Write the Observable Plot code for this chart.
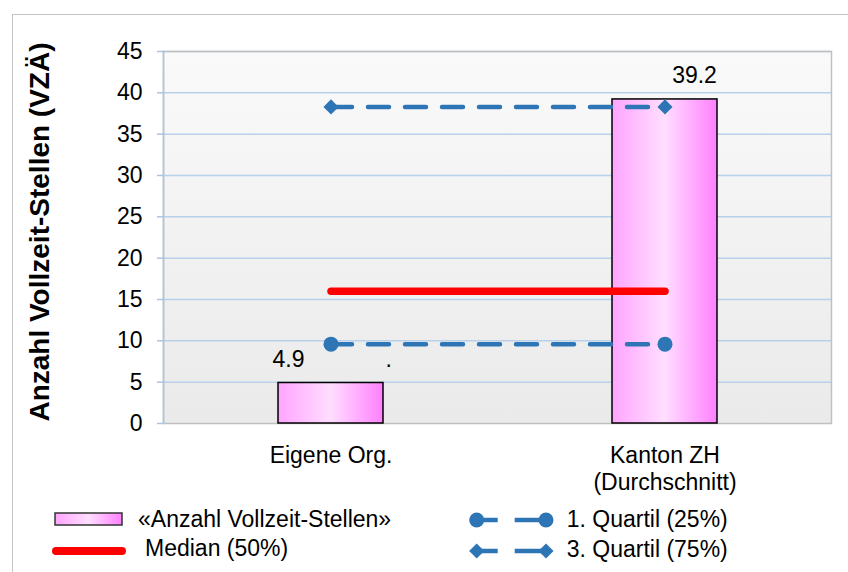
<!DOCTYPE html>
<html><head><meta charset="utf-8">
<script src="https://cdn.jsdelivr.net/npm/d3@7"></script>
<script src="https://cdn.jsdelivr.net/npm/@observablehq/plot@0.6"></script>
<style>
body{margin:0;background:#fff;font-family:"Liberation Sans",Arial,sans-serif;}
#wrap{position:relative;width:848px;height:572px;overflow:hidden;}
#border{position:absolute;left:12px;top:14px;width:900px;height:700px;border:1.5px solid #c4c4c4;box-sizing:border-box;}
#chart{position:absolute;left:0;top:0;}
.lg{position:absolute;font-size:23px;line-height:23px;color:#000;white-space:nowrap;}
.sw{position:absolute;left:0;top:0;}
</style></head><body>
<div id="wrap"><div id="border"></div><div id="chart"></div><div id="legend"></div></div>
<script>
// ---- data ----
const categories = ["Eigene Org.", "Kanton ZH\n(Durchschnitt)"];
const values = [4.9, 39.2];
const valueLabels = ["4.9", "39.2"];
const extraLabels = ["."];
const median = [16.0, 16.0];
const quartile1 = [9.6, 9.6];
const quartile3 = [38.3, 38.3];
const yTicks = [0, 5, 10, 15, 20, 25, 30, 35, 40, 45];
const yTitle = "Anzahl Vollzeit-Stellen (VZÄ)";
const legendLabels = ["«Anzahl Vollzeit-Stellen»", "Median (50%)", "1. Quartil (25%)", "3. Quartil (75%)"];

const font = "Liberation Sans, Arial, sans-serif";
const blue = "#2e75b6";

const bars = categories.map((c, i) => ({cat: c, v: values[i], label: valueLabels[i]}));
const med = categories.map((c, i) => ({cat: c, v: median[i]}));
const q1 = categories.map((c, i) => ({cat: c, v: quartile1[i]}));
const q3 = categories.map((c, i) => ({cat: c, v: quartile3[i]}));
const extra = extraLabels.map((t, i) => ({cat: categories[i], v: values[i], label: t}));

const plot = Plot.plot({
  width: 848, height: 490,
  marginLeft: 163, marginRight: 17, marginTop: 51, marginBottom: 67,
  style: {fontFamily: font, fontSize: "23px", background: "transparent", overflow: "visible", color: "#000"},
  x: {domain: categories, paddingInner: 0.686, paddingOuter: 0.343, align: 0.5, label: null},
  y: {domain: [0, 45], label: null},
  marks: [
    Plot.frame({fill: "url(#bgGrad)", stroke: null}),
    Plot.gridY(yTicks.filter(t => t > 0), {stroke: "#b9d0ea", strokeOpacity: 1, strokeWidth: 1.5}),
    Plot.frame({stroke: "#c0c0c0", strokeWidth: 1.5, fill: "none"}),
    Plot.frame({anchor: "left", stroke: "#a9c4e4", strokeWidth: 1.5}),
    Plot.axisY(yTicks, {tickSize: 6, tickPadding: 15, stroke: "#a9c4e4", strokeWidth: 1.5, fill: "#000", fontSize: 23, label: null}),
    Plot.axisX({tickSize: 0, tickPadding: 21, fontSize: 23, lineHeight: 1.15, fill: "#000", label: null}),
    Plot.barY(bars, {x: "cat", y: "v", fill: "url(#barGrad)", stroke: "#000", strokeWidth: 1.5}),
    Plot.line(med, {x: "cat", y: "v", stroke: "#ff0000", strokeWidth: 7.5, strokeLinecap: "round"}),
    Plot.line(q1, {x: "cat", y: "v", stroke: blue, strokeWidth: 4.5, strokeDasharray: "21,16"}),
    Plot.dot(q1, {x: "cat", y: "v", r: 7.5, fill: blue, stroke: null}),
    Plot.line(q3, {x: "cat", y: "v", stroke: blue, strokeWidth: 4.5, strokeDasharray: "21,16"}),
    Plot.dot(q3, {x: "cat", y: "v", r: 6.8, symbol: "diamond2", fill: blue, stroke: null}),
    Plot.text(bars, {filter: (d, i) => i === 0, x: "cat", y: "v", text: "label", dx: -42.5, dy: -23.5, fontSize: 23, fill: "#000"}),
    Plot.text(bars, {filter: (d, i) => i === 1, x: "cat", y: "v", text: "label", dx: 29.5, dy: -23.5, fontSize: 23, fill: "#000"}),
    Plot.text(extra, {x: "cat", y: "v", text: "label", dx: 57.7, dy: -23.5, fontSize: 23, fill: "#000"}),
    Plot.text([yTitle], {frameAnchor: "left", textAnchor: "middle", dx: -123, dy: -5.5, rotate: -90, fontSize: 28, fontWeight: "bold", fill: "#000"})
  ]
});

const defs = d3.select(plot).insert("defs", ":first-child");
const bg = defs.append("linearGradient").attr("id", "bgGrad").attr("x1", 0).attr("y1", 0).attr("x2", 0).attr("y2", 1);
bg.append("stop").attr("offset", "0%").attr("stop-color", "#fafafa");
bg.append("stop").attr("offset", "100%").attr("stop-color", "#eaeaea");
const bar = defs.append("linearGradient").attr("id", "barGrad").attr("x1", 0).attr("y1", 0).attr("x2", 1).attr("y2", 0);
bar.append("stop").attr("offset", "0%").attr("stop-color", "#ffa4ff");
bar.append("stop").attr("offset", "50%").attr("stop-color", "#ffdeff");
bar.append("stop").attr("offset", "100%").attr("stop-color", "#ff80ff");
document.getElementById("chart").appendChild(plot);

// ---- legend ----
const lg = document.getElementById("legend");
const sw = d3.select(lg).append("svg").attr("class", "sw").attr("width", 848).attr("height", 572).style("position", "absolute");
sw.append("rect").attr("x", 55).attr("y", 513).attr("width", 67).attr("height", 12)
  .attr("fill", "url(#barGrad)").attr("stroke", "#333").attr("stroke-width", 1.5);
sw.append("line").attr("x1", 56).attr("x2", 122).attr("y1", 551).attr("y2", 551)
  .attr("stroke", "#ff0000").attr("stroke-width", 8).attr("stroke-linecap", "round");
[[520, "circle"], [551, "diamond"]].forEach(([y, kind]) => {
  sw.append("line").attr("x1", 476.7).attr("x2", 546).attr("y1", y).attr("y2", y)
    .attr("stroke", blue).attr("stroke-width", 4.5).attr("stroke-dasharray", "21,17,50");
  [476.7, 546].forEach(x => {
    if (kind === "circle") sw.append("circle").attr("cx", x).attr("cy", y).attr("r", 7.5).attr("fill", blue);
    else sw.append("path").attr("transform", `translate(${x},${y})`)
      .attr("d", d3.symbol(d3.symbolDiamond2, Math.PI * 6.8 * 6.8)()).attr("fill", blue);
  });
});
const pos = [[138, 507.8], [145, 537.2], [566.7, 507.8], [566.7, 537.6]];
legendLabels.forEach((t, i) => {
  const d = document.createElement("div");
  d.className = "lg";
  d.style.left = pos[i][0] + "px";
  d.style.top = pos[i][1] + "px";
  d.textContent = t;
  lg.appendChild(d);
});
</script>
</body></html>
